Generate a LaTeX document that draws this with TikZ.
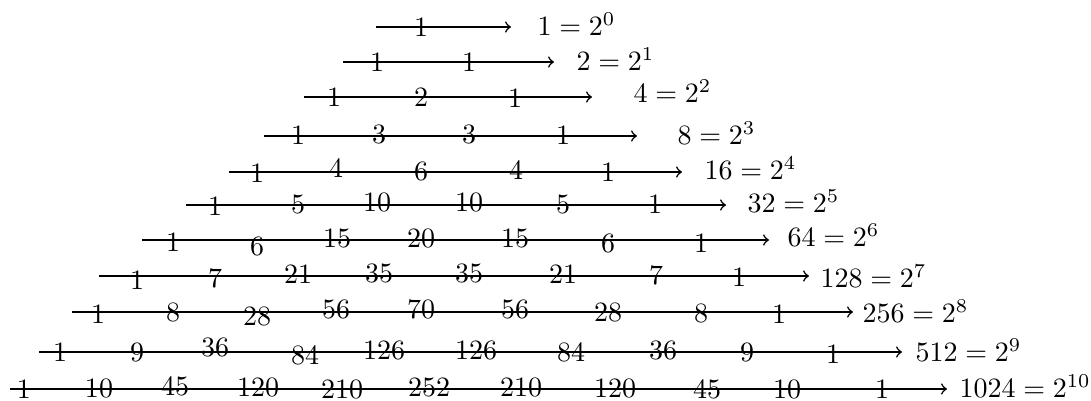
\documentclass[tikz,border=0pt]{standalone}
\usetikzlibrary{arrows}
\begin{document}
\begin{tikzpicture}[x=0.3571pt,y=-0.3571pt,
  num/.style={inner sep=0pt,anchor=center},
  lbl/.style={inner sep=0pt,anchor=base west},
  rowline/.style={->,line width=0.55pt}]
\useasboundingbox (0,0) rectangle (1091,401);
% row lines
\foreach \r/\y/\s/\e in {0/27/376/511,1/62/343/554,2/97/304/592,3/136/264/637,4/172/229/682,5/205/186/726,6/240/142/769,7/276/99/809,8/312/72/853,9/352/39/902,10/389/10/947}{
  \coordinate (s\r) at (\s,\y);
  \coordinate (e\r) at (\e,\y);
  \draw[rowline] (s\r) -- (e\r);
}
% row 0
\node[num] (n0-0) at (421,27) {1};
% row 1
\node[num] (n1-0) at (377,62) {1};
\node[num] (n1-1) at (469,62) {1};
% row 2
\node[num] (n2-0) at (334,97) {1};
\node[num] (n2-1) at (421,97) {2};
\node[num] (n2-2) at (515,98) {1};
% row 3
\node[num] (n3-0) at (298,135) {1};
\node[num] (n3-1) at (379,134) {3};
\node[num] (n3-2) at (469,134) {3};
\node[num] (n3-3) at (563,135) {1};
% row 4
\node[num] (n4-0) at (257,173) {1};
\node[num] (n4-1) at (336,168) {4};
\node[num] (n4-2) at (421,171) {6};
\node[num] (n4-3) at (516,170) {4};
\node[num] (n4-4) at (608,172) {1};
% row 5
\node[num] (n5-0) at (215,206) {1};
\node[num] (n5-1) at (298,204) {5};
\node[num] (n5-2) at (377,202) {10};
\node[num] (n5-3) at (469,202) {10};
\node[num] (n5-4) at (563,204) {5};
\node[num] (n5-5) at (655,204) {1};
% row 6
\node[num] (n6-0) at (173,242) {1};
\node[num] (n6-1) at (257,246) {6};
\node[num] (n6-2) at (337,238) {15};
\node[num] (n6-3) at (421,238) {20};
\node[num] (n6-4) at (515,238) {15};
\node[num] (n6-5) at (608,243) {6};
\node[num] (n6-6) at (701,243) {1};
% row 7
\node[num] (n7-0) at (137,280) {1};
\node[num] (n7-1) at (215,278) {7};
\node[num] (n7-2) at (298,274) {21};
\node[num] (n7-3) at (379,273) {35};
\node[num] (n7-4) at (469,273) {35};
\node[num] (n7-5) at (563,274) {21};
\node[num] (n7-6) at (656,275) {7};
\node[num] (n7-7) at (739,277) {1};
% row 8
\node[num] (n8-0) at (98,314) {1};
\node[num] (n8-1) at (173,312) {8};
\node[num] (n8-2) at (257,316) {28};
\node[num] (n8-3) at (336,309) {56};
\node[num] (n8-4) at (421,309) {70};
\node[num] (n8-5) at (515,309) {56};
\node[num] (n8-6) at (608,312) {28};
\node[num] (n8-7) at (701,313) {8};
\node[num] (n8-8) at (779,314) {1};
% row 9
\node[num] (n9-0) at (60,352) {1};
\node[num] (n9-1) at (137,352) {9};
\node[num] (n9-2) at (215,347) {36};
\node[num] (n9-3) at (305,355) {84};
\node[num] (n9-4) at (384,350) {126};
\node[num] (n9-5) at (476,350) {126};
\node[num] (n9-6) at (571,352) {84};
\node[num] (n9-7) at (663,350) {36};
\node[num] (n9-8) at (747,352) {9};
\node[num] (n9-9) at (833,354) {1};
% row 10
\node[num] (n10-0) at (24,389) {1};
\node[num] (n10-1) at (99,388) {10};
\node[num] (n10-2) at (175,386) {45};
\node[num] (n10-3) at (258,387) {120};
\node[num] (n10-4) at (342,389) {210};
\node[num] (n10-5) at (429,387) {252};
\node[num] (n10-6) at (521,387) {210};
\node[num] (n10-7) at (615,388) {120};
\node[num] (n10-8) at (707,389) {45};
\node[num] (n10-9) at (787,389) {10};
\node[num] (n10-10) at (882,389) {1};
% labels
\node[lbl] (l0) at (537,36) {$1=2^{0}$};
\node[lbl] (l1) at (576,71) {$2=2^{1}$};
\node[lbl] (l2) at (633,103) {$4=2^{2}$};
\node[lbl] (l3) at (677,145) {$8=2^{3}$};
\node[lbl] (l4) at (704,180) {$16=2^{4}$};
\node[lbl] (l5) at (747,213) {$32=2^{5}$};
\node[lbl] (l6) at (787,247) {$64=2^{6}$};
\node[lbl] (l7) at (820,288) {$128=2^{7}$};
\node[lbl] (l8) at (862,323) {$256=2^{8}$};
\node[lbl] (l9) at (915,362) {$512=2^{9}$};
\node[lbl] (l10) at (959,398) {$1024=2^{10}$};
\end{tikzpicture}
\end{document}
